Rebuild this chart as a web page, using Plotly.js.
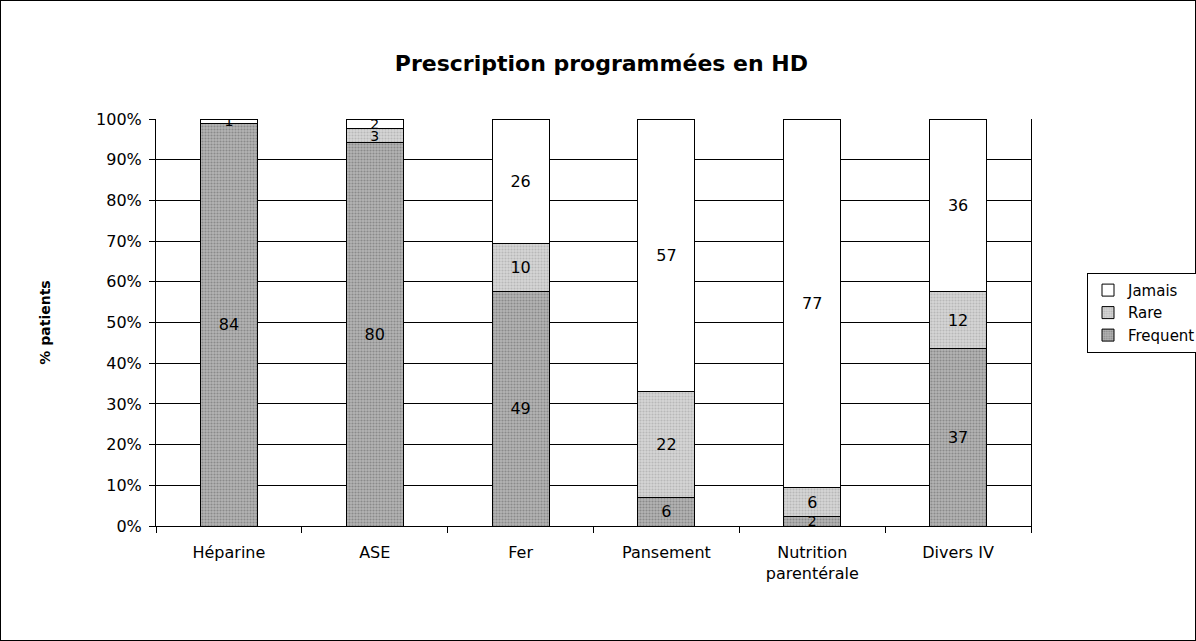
<!DOCTYPE html>
<html><head><meta charset="utf-8">
<script src="https://cdn.plot.ly/plotly-3.0.1.min.js"></script>
<style>html,body{margin:0;padding:0;background:#fff}#c{width:1196px;height:641px;box-sizing:border-box;border:1px solid #000}</style>
</head><body><div id="c"></div>
<script>
const categories = ["Héparine","ASE","Fer","Pansement","Nutrition<br>parentérale","Divers IV"];
const frequent = [84,80,49,6,2,37];
const rare = [0,3,10,22,6,12];
const jamais = [1,2,26,57,77,36];
const yTicks = [0,10,20,30,40,50,60,70,80,90,100];
const yTickText = yTicks.map(v=>v+"%");
const FONT = 'DejaVu Sans, Liberation Sans, Arial';
const lab = a => a.map(v => v===0 ? "" : String(v));
const sizes = a => a.map(v => v <= 3 ? 14 : 16);
const common = {type:'bar', x:categories, textposition:'inside', insidetextanchor:'middle',
  constraintext:'none', textangle:0, hoverinfo:'none'};
const data = [
  Object.assign({}, common, {name:'Frequent', y:frequent, text:lab(frequent), textfont:{family:FONT, size:sizes(frequent), color:'#000'}, marker:{color:'#a9a9a9', line:{color:'#000', width:1}, pattern:{shape:'.', fgcolor:'#8a8a8a', bgcolor:'#b4b4b4', size:3, solidity:0.4}}}),
  Object.assign({}, common, {name:'Rare', y:rare, text:lab(rare), textfont:{family:FONT, size:sizes(rare), color:'#000'}, marker:{color:'#cdcdcd', line:{color:'#000', width:1}, pattern:{shape:'.', fgcolor:'#b8b8b8', bgcolor:'#d6d6d6', size:3, solidity:0.4}}}),
  Object.assign({}, common, {name:'Jamais', y:jamais, text:lab(jamais), textfont:{family:FONT, size:sizes(jamais), color:'#000'}, marker:{color:'#ffffff', line:{color:'#000', width:1}}})
];
const layout = {
  width:1196, height:641,
  margin:{l:155, r:166, t:118, b:116, autoexpand:false},
  paper_bgcolor:'rgba(0,0,0,0)', plot_bgcolor:'#fff',
  barmode:'stack', barnorm:'percent', bargap:0.61,
  font:{family:FONT, size:16, color:'#000'},
  title:{text:'<b>Prescription programmées en HD</b>', x:0.502, xanchor:'center', y:0.903, yanchor:'middle', font:{size:22, family:FONT}},
  xaxis:{showline:true, linecolor:'#000', linewidth:1, ticks:'outside', tickson:'boundaries', ticklen:6, tickcolor:'#000',
    tickfont:{size:16}, ticklabelstandoff:12, showgrid:false, mirror:false},
  yaxis:{range:[0,100], tickvals:yTicks, ticktext:yTickText, showline:true, linecolor:'#000', linewidth:1, mirror:true,
    ticks:'outside', ticklen:6, tickcolor:'#000', showgrid:true, gridcolor:'#000', gridwidth:1, zeroline:false,
    tickfont:{size:16}, ticklabelstandoff:4,
    title:{text:'<b>% patients</b>', font:{size:14}, standoff:42}},
  showlegend:true,
  legend:{traceorder:'reversed', x:1.064, xanchor:'left', y:0.622, yanchor:'top', bordercolor:'#000', borderwidth:1,
    bgcolor:'#fff', font:{size:15}, itemwidth:30, tracegroupgap:0}
};
Plotly.newPlot('c', data, layout, {staticPlot:true});
</script></body></html>
